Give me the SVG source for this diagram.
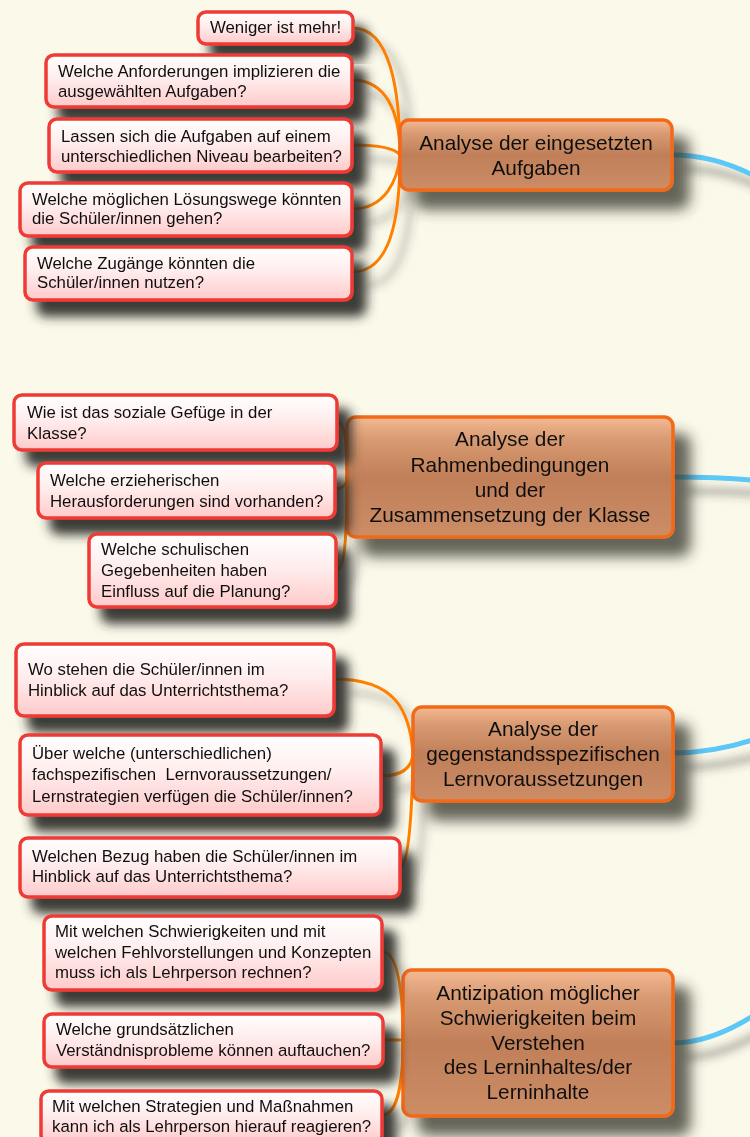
<svg xmlns="http://www.w3.org/2000/svg" width="750" height="1137" viewBox="0 0 750 1137">
<defs>
<linearGradient id="gChild" x1="0" y1="0" x2="0" y2="1">
<stop offset="0" stop-color="#FFFFFF"/>
<stop offset="0.45" stop-color="#FFEDED"/>
<stop offset="1" stop-color="#FFCACA"/>
</linearGradient>
<linearGradient id="gMain" x1="0" y1="0" x2="0" y2="1">
<stop offset="0" stop-color="#F4BA94"/>
<stop offset="0.18" stop-color="#D99B73"/>
<stop offset="0.5" stop-color="#C07F58"/>
<stop offset="1" stop-color="#CC8D67"/>
</linearGradient>
<filter id="shChild" x="-20%" y="-40%" width="150%" height="200%">
<feDropShadow dx="13" dy="15" stdDeviation="5.5" flood-color="#2E2E26" flood-opacity="0.92"/>
</filter>
<filter id="shMain" x="-20%" y="-40%" width="150%" height="200%">
<feDropShadow dx="16" dy="18" stdDeviation="7" flood-color="#33332C" flood-opacity="0.75"/>
</filter>
<filter id="shLine" x="-20%" y="-20%" width="150%" height="150%">
<feDropShadow dx="12" dy="14" stdDeviation="5" flood-color="#3A3A34" flood-opacity="0.55"/>
</filter>
</defs>
<style>
.child rect{fill:url(#gChild);stroke:#EE3A34;stroke-width:3.5}
.child{filter:url(#shChild)}
.main rect{fill:url(#gMain);stroke:#F26918;stroke-width:3.5}
.main{filter:url(#shMain)}
.ct{font-family:"Liberation Sans",Arial,sans-serif;font-size:16.8px;fill:#111}
.mt{font-family:"Liberation Sans",Arial,sans-serif;font-size:20.8px;fill:#111;text-anchor:middle}
.or{fill:none;stroke:#FF8000;stroke-width:3}
.bl{fill:none;stroke:#5CC8F8;stroke-width:5}
</style>
<rect x="0" y="0" width="750" height="1137" fill="#FBF9EA"/>

<g id="connectors" filter="url(#shLine)">
<path class="bl" d="M672 155 C700 155 730 162 762 180"/>
<path class="bl" d="M673 477 C700 477 730 478 762 481"/>
<path class="bl" d="M673 753 C700 753 730 748 762 737"/>
<path class="bl" d="M673 1043 C700 1043 730 1032 762 1010"/>
<path class="or" d="M353 28 C390 28 400 90 400 155"/>
<path class="or" d="M352 80 C385 80 400 110 400 155"/>
<path class="or" d="M352 145 C380 145 395 148 400 155"/>
<path class="or" d="M352 209 C385 209 398 180 400 155"/>
<path class="or" d="M352 272 C390 272 400 220 400 155"/>
<path class="or" d="M337 422 C345 422 347 440 347 477"/>
<path class="or" d="M335 489 C343 489 347 484 347 477"/>
<path class="or" d="M337 570 C345 570 347 530 347 477"/>
<path class="or" d="M334 679 C395 679 410 710 413 754"/>
<path class="or" d="M381 776 C405 776 412 765 413 754"/>
<path class="or" d="M400 867 C408 867 412 820 413 754"/>
<path class="or" d="M382 952 C398 952 403 990 403 1041"/>
<path class="or" d="M383 1040 L403 1040"/>
<path class="or" d="M382 1115 C398 1115 403 1080 403 1041"/>
</g>

<g id="n1" class="main"><rect x="400" y="120" width="272" height="70" rx="9"/>
<text class="mt"><tspan x="536" y="150">Analyse der eingesetzten</tspan><tspan x="536" y="175">Aufgaben</tspan></text></g>
<g id="n1a" class="child"><rect x="198" y="12" width="155" height="32" rx="8"/>
<text class="ct"><tspan x="210" y="33">Weniger ist mehr!</tspan></text></g>
<g id="n1b" class="child"><rect x="46" y="55" width="306" height="52" rx="8"/>
<text class="ct"><tspan x="58" y="77">Welche Anforderungen implizieren die</tspan><tspan x="58" y="97">ausgewählten Aufgaben?</tspan></text></g>
<g id="n1c" class="child"><rect x="49" y="119" width="303" height="53" rx="8"/>
<text class="ct"><tspan x="61" y="142">Lassen sich die Aufgaben auf einem</tspan><tspan x="61" y="162">unterschiedlichen Niveau bearbeiten?</tspan></text></g>
<g id="n1d" class="child"><rect x="20" y="183" width="332" height="53" rx="8"/>
<text class="ct"><tspan x="32" y="205">Welche möglichen Lösungswege könnten</tspan><tspan x="32" y="224">die Schüler/innen gehen?</tspan></text></g>
<g id="n1e" class="child"><rect x="25" y="247" width="327" height="53" rx="8"/>
<text class="ct"><tspan x="37" y="269">Welche Zugänge könnten die</tspan><tspan x="37" y="288">Schüler/innen nutzen?</tspan></text></g>

<g id="n2" class="main"><rect x="347" y="417" width="326" height="120" rx="9"/>
<text class="mt"><tspan x="510" y="446">Analyse der</tspan><tspan x="510" y="472">Rahmenbedingungen</tspan><tspan x="510" y="497">und der</tspan><tspan x="510" y="522">Zusammensetzung der Klasse</tspan></text></g>
<g id="n2a" class="child"><rect x="14" y="395" width="323" height="55" rx="8"/>
<text class="ct"><tspan x="27" y="418">Wie ist das soziale Gefüge in der</tspan><tspan x="27" y="439">Klasse?</tspan></text></g>
<g id="n2b" class="child"><rect x="38" y="463" width="297" height="55" rx="8"/>
<text class="ct"><tspan x="50" y="486">Welche erzieherischen</tspan><tspan x="50" y="507">Herausforderungen sind vorhanden?</tspan></text></g>
<g id="n2c" class="child"><rect x="89" y="534" width="247" height="73" rx="8"/>
<text class="ct"><tspan x="101" y="555">Welche schulischen</tspan><tspan x="101" y="576">Gegebenheiten haben</tspan><tspan x="101" y="597">Einfluss auf die Planung?</tspan></text></g>

<g id="n3" class="main"><rect x="413" y="707" width="260" height="94" rx="9"/>
<text class="mt"><tspan x="543" y="736">Analyse der</tspan><tspan x="543" y="761">gegenstandsspezifischen</tspan><tspan x="543" y="786">Lernvoraussetzungen</tspan></text></g>
<g id="n3a" class="child"><rect x="16" y="644" width="318" height="72" rx="8"/>
<text class="ct"><tspan x="28" y="675">Wo stehen die Schüler/innen im</tspan><tspan x="28" y="696">Hinblick auf das Unterrichtsthema?</tspan></text></g>
<g id="n3b" class="child"><rect x="20" y="735" width="361" height="80" rx="8"/>
<text class="ct"><tspan x="32" y="759">Über welche (unterschiedlichen)</tspan><tspan x="32" y="780">fachspezifischen&#160; Lernvoraussetzungen/</tspan><tspan x="32" y="802">Lernstrategien verfügen die Schüler/innen?</tspan></text></g>
<g id="n3c" class="child"><rect x="20" y="838" width="380" height="59" rx="8"/>
<text class="ct"><tspan x="32" y="862">Welchen Bezug haben die Schüler/innen im</tspan><tspan x="32" y="882">Hinblick auf das Unterrichtsthema?</tspan></text></g>

<g id="n4" class="main"><rect x="403" y="970" width="270" height="146" rx="9"/>
<text class="mt"><tspan x="538" y="1000">Antizipation möglicher</tspan><tspan x="538" y="1025">Schwierigkeiten beim</tspan><tspan x="538" y="1050">Verstehen</tspan><tspan x="538" y="1074">des Lerninhaltes/der</tspan><tspan x="538" y="1099">Lerninhalte</tspan></text></g>
<g id="n4a" class="child"><rect x="44" y="916" width="338" height="74" rx="8"/>
<text class="ct"><tspan x="55" y="937">Mit welchen Schwierigkeiten und mit</tspan><tspan x="55" y="958">welchen Fehlvorstellungen und Konzepten</tspan><tspan x="55" y="978">muss ich als Lehrperson rechnen?</tspan></text></g>
<g id="n4b" class="child"><rect x="44" y="1014" width="339" height="53" rx="8"/>
<text class="ct"><tspan x="56" y="1035">Welche grundsätzlichen</tspan><tspan x="56" y="1056">Verständnisprobleme können auftauchen?</tspan></text></g>
<g id="n4c" class="child"><rect x="41" y="1091" width="341" height="52" rx="8"/>
<text class="ct"><tspan x="52" y="1112">Mit welchen Strategien und Maßnahmen</tspan><tspan x="52" y="1132">kann ich als Lehrperson hierauf reagieren?</tspan></text></g>
</svg>
